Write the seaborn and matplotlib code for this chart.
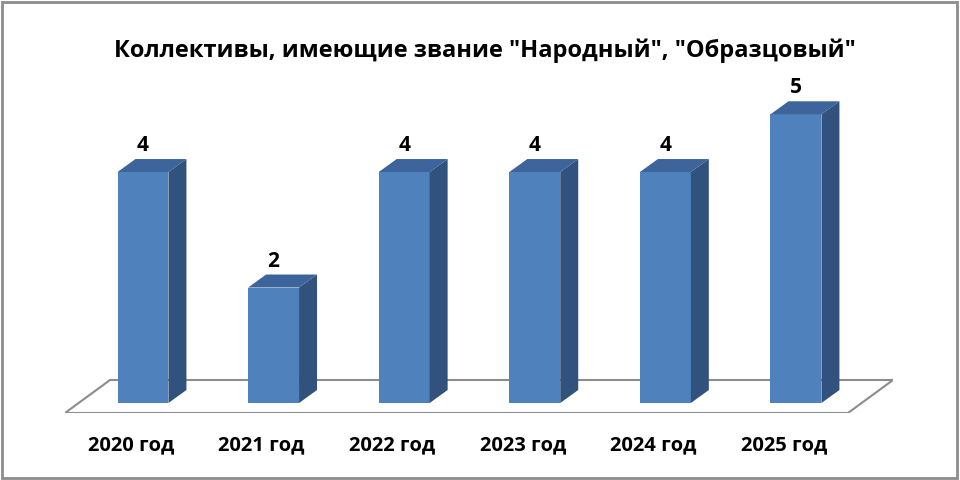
import matplotlib
matplotlib.use('Agg')
import matplotlib.pyplot as plt
import seaborn as sns
from matplotlib.patches import Polygon, Rectangle
from matplotlib.transforms import ScaledTranslation

# Data
years = ['2020 год', '2021 год', '2022 год', '2023 год', '2024 год', '2025 год']
counts = [4, 2, 4, 4, 4, 5]
title = 'Коллективы, имеющие звание "Народный", "Образцовый"'

front_color = '#4f81bd'
top_color = '#3d659c'
side_color = '#30527c'

sns.set_style('white')
plt.rcParams['font.family'] = ['Open Sans', 'DejaVu Sans']
plt.rcParams['text.color'] = 'black'
plt.rcParams['xtick.color'] = 'black'

fig = plt.figure(figsize=(9.6, 4.8), dpi=100)
# axes spans the floor area (pixels 65..893 horizontally, 60..413 from the top)
ax = fig.add_axes([65 / 960, 67 / 480, 828 / 960, 353 / 480])

sns.barplot(x=years, y=counts, color=front_color, width=0.39, saturation=1,
            linewidth=0, ax=ax, zorder=3)
ax.set_xlim(-0.597, 5.743)
ax.set_ylim(-0.173, 5.94)
for s in ax.spines.values():
    s.set_visible(False)
ax.set_yticks([])
ax.set_xlabel('')
ax.set_ylabel('')

# floor of the 3D plot (axes fraction)
floor = Polygon([(0, 0), (783 / 828, 0), (1, 33 / 353), (45 / 828, 33 / 353)],
                closed=True, facecolor='white', edgecolor='#8c8c8c', lw=1.5,
                transform=ax.transAxes, zorder=1)
ax.add_patch(floor)

# 3D depth of the bars
px_x = 828 / (5.743 + 0.597)
px_y = 353 / (5.94 + 0.173)
dx = 18 / px_x
dy = 13 / px_y
for bar, v in zip(ax.patches, counts):
    x0 = bar.get_x()
    x1 = x0 + bar.get_width()
    y0 = bar.get_y()
    h = bar.get_height()
    top = Polygon([(x0, h), (x1, h), (x1 + dx, h + dy), (x0 + dx, h + dy)],
                  facecolor=top_color, lw=0, zorder=3)
    side = Polygon([(x1, y0), (x1 + dx, y0 + dy), (x1 + dx, h + dy), (x1, h)],
                   facecolor=side_color, lw=0, zorder=3)
    ax.add_patch(top)
    ax.add_patch(side)
    ax.annotate(str(v), (x0 + bar.get_width() / 2, h), xytext=(0, 16),
                textcoords='offset pixels', ha='center', va='bottom',
                fontsize=15, fontweight='bold', color='black')

ax.tick_params(axis='x', length=0, pad=16)
for lab in ax.get_xticklabels():
    lab.set_fontsize(14.5)
    lab.set_fontweight('bold')
    lab.set_color('black')
    lab.set_transform(lab.get_transform() + ScaledTranslation(-12 / 100, 0, fig.dpi_scale_trans))

fig.text(0.505, 0.895, title, ha='center', va='center', fontsize=17, fontweight='bold',
         color='black')

# outer frame
fig.patches.append(Rectangle((0.002, 0.004), 0.995, 0.992, transform=fig.transFigure,
                             fill=False, edgecolor='#8c8c8c', lw=2))

fig.savefig('out.png', dpi=100)
